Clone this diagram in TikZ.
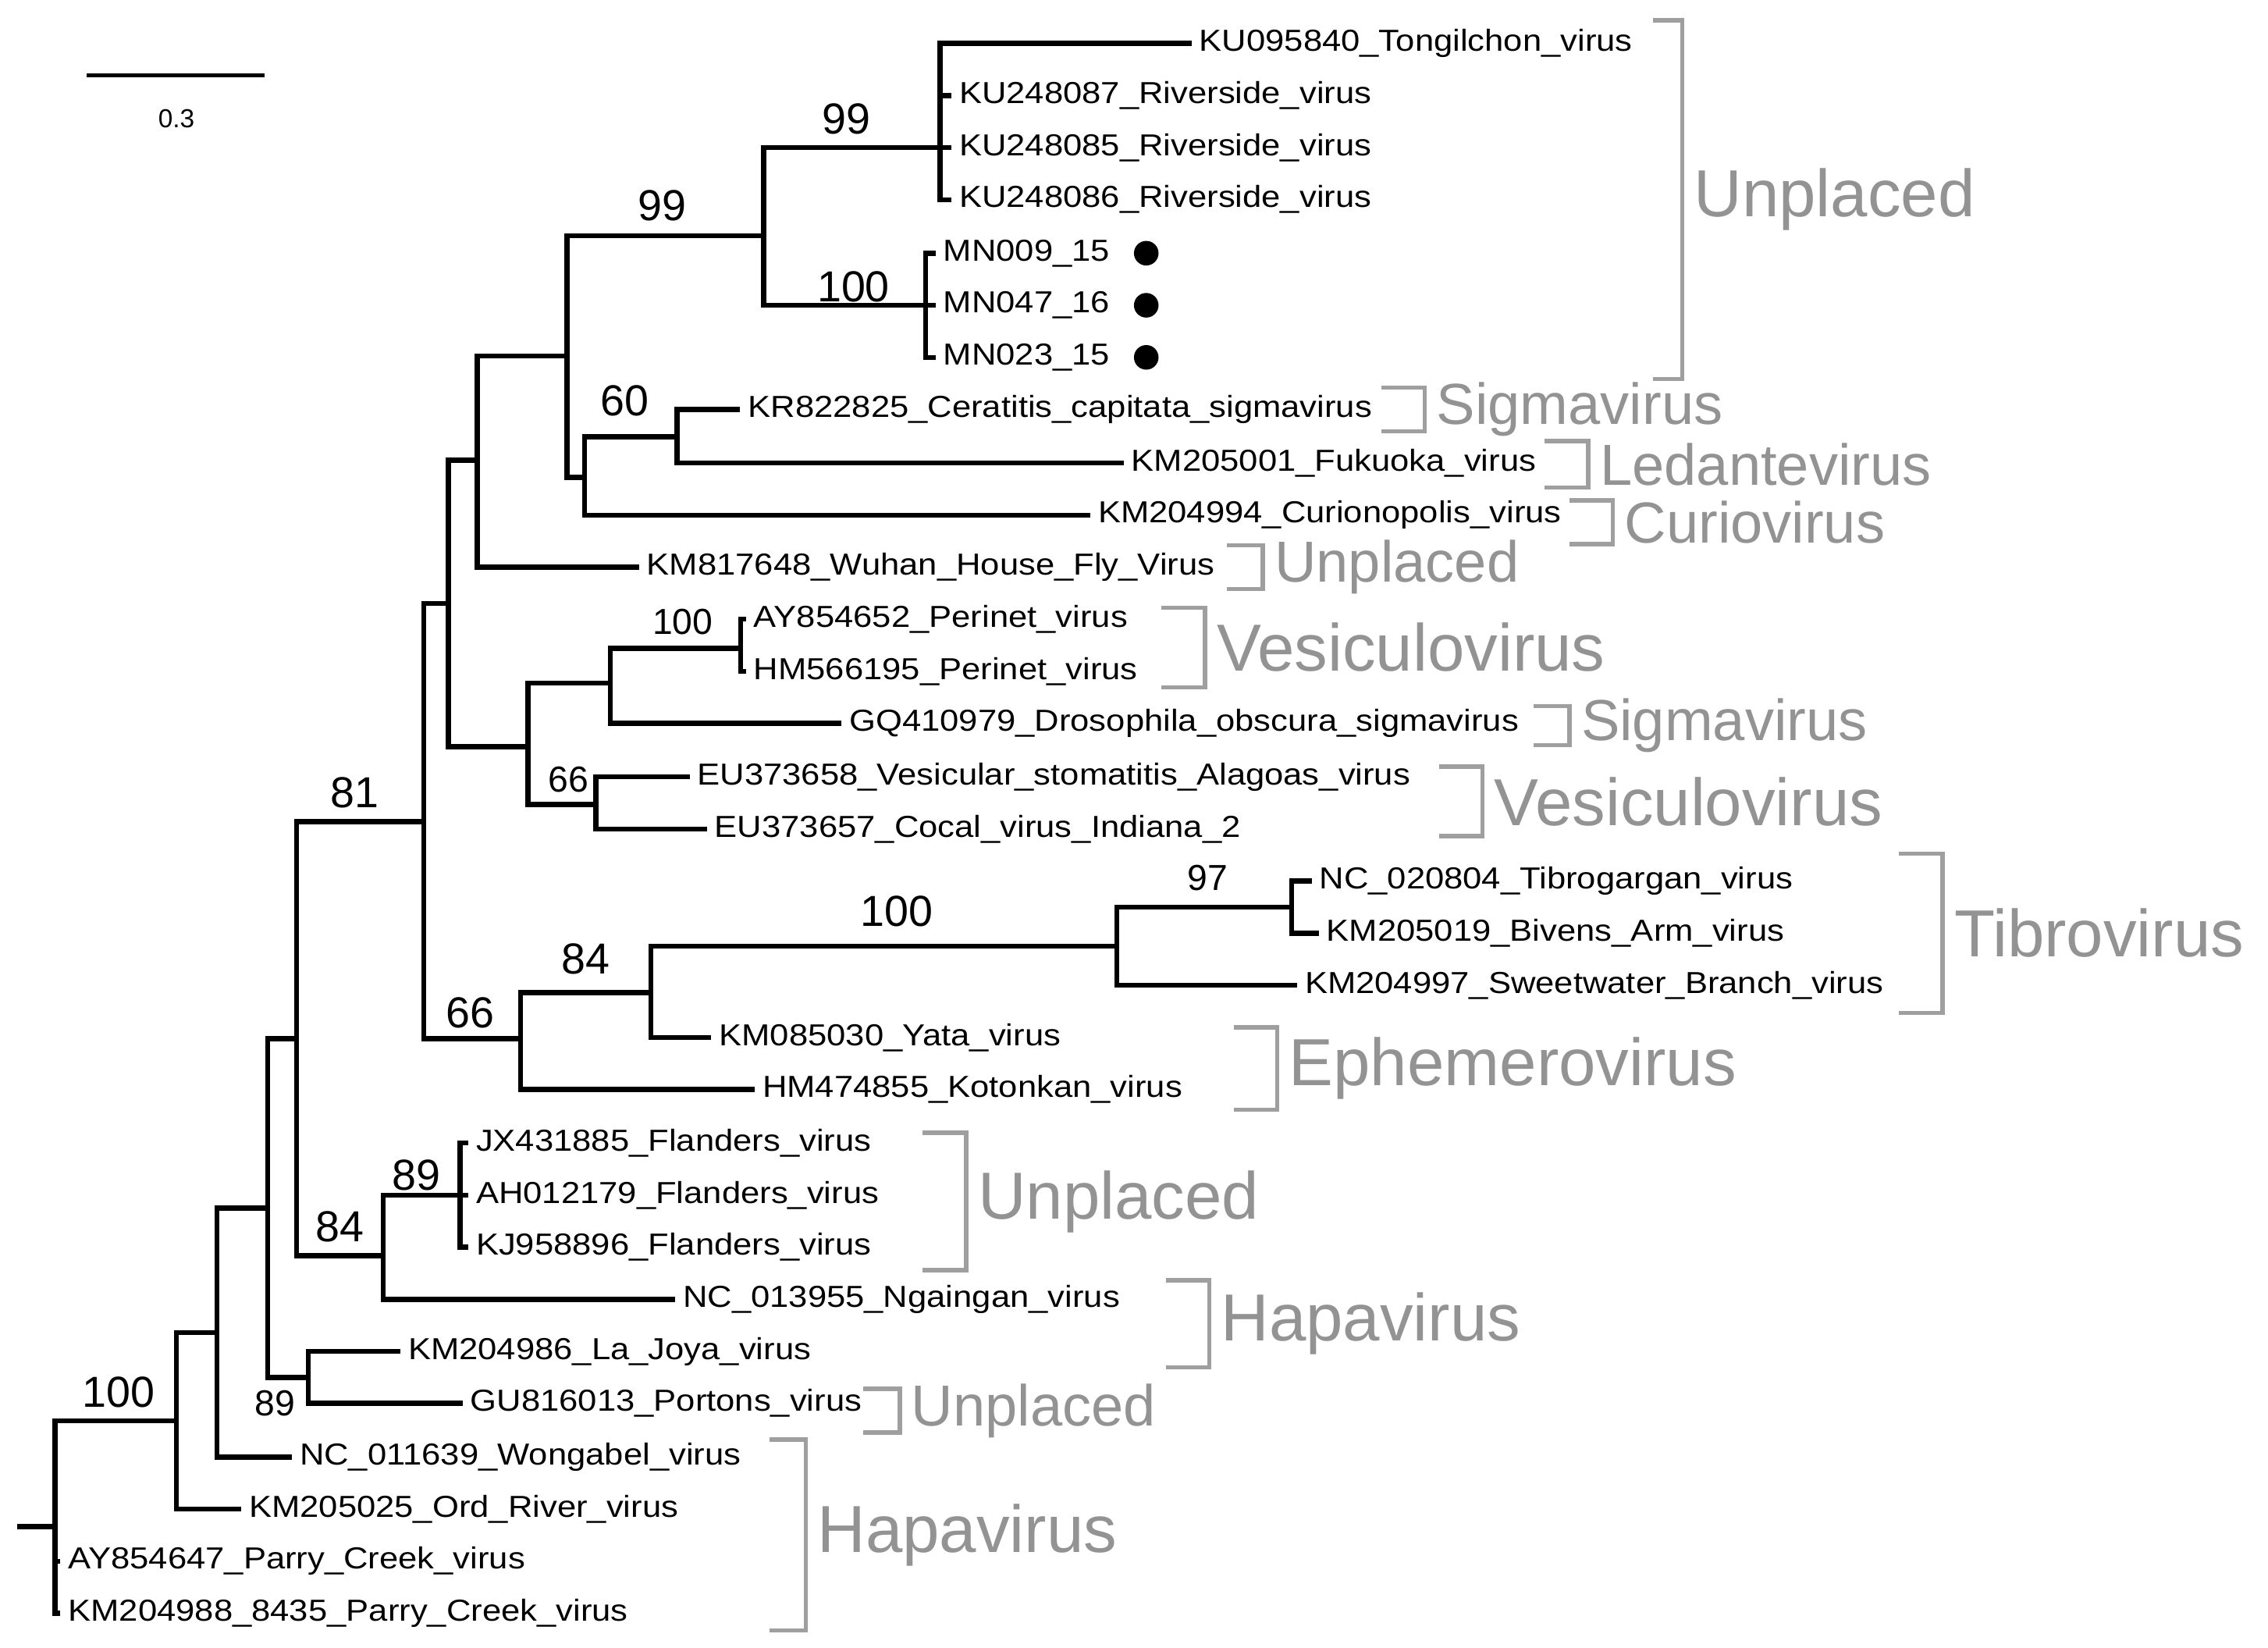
\documentclass[tikz,border=0pt]{standalone}
\usepackage{fontspec}
\setmainfont{Liberation Sans}
\newfontfamily\leaffont[FakeStretch=1.12]{Liberation Sans}
\begin{document}
\begin{tikzpicture}[x=1pt,y=-1pt,
 br/.style={line width=3.5pt},
 leaf/.style={anchor=west,inner sep=0pt,font=\leaffont\fontsize{21}{21}\selectfont},
 bs/.style={inner sep=0pt,font=\fontsize{30}{30}\selectfont},
 bss/.style={inner sep=0pt,font=\fontsize{25}{25}\selectfont},
 brk/.style={draw=gray!75,line width=3pt},
 clade/.style={anchor=west,inner sep=0pt,text=gray!85,font=\fontsize{42}{42}\selectfont}]
\useasboundingbox (0,0) rectangle (1568,1139);
% leaves
\foreach \n/\x/\y/\t in {1/822/30/KU095840\_Tongilchon\_virus,2/656/66/KU248087\_Riverside\_virus,3/656/102/KU248085\_Riverside\_virus,4/656/138/KU248086\_Riverside\_virus,5/645/175/MN009\_15,6/645/211/MN047\_16,7/645/247/MN023\_15,8/510/283/KR822825\_Ceratitis\_capitata\_sigmavirus,9/775/320/KM205001\_Fukuoka\_virus,10/752/356/KM204994\_Curionopolis\_virus,11/440/392/KM817648\_Wuhan\_House\_Fly\_Virus,12/514/428/AY854652\_Perinet\_virus,13/514/464/HM566195\_Perinet\_virus,14/580/500/GQ410979\_Drosophila\_obscura\_sigmavirus,15/475/537/EU373658\_Vesicular\_stomatitis\_Alagoas\_virus,16/487/573/EU373657\_Cocal\_virus\_Indiana\_2,17/905/609/NC\_020804\_Tibrogargan\_virus,18/910/645/KM205019\_Bivens\_Arm\_virus,19/895/681/KM204997\_Sweetwater\_Branch\_virus,20/490/717/KM085030\_Yata\_virus,21/520/753/HM474855\_Kotonkan\_virus,22/322/790/JX431885\_Flanders\_virus,23/322/826/AH012179\_Flanders\_virus,24/322/862/KJ958896\_Flanders\_virus,25/465/898/NC\_013955\_Ngaingan\_virus,26/275/934/KM204986\_La\_Joya\_virus,27/318/970/GU816013\_Portons\_virus,28/200/1007/NC\_011639\_Wongabel\_virus,29/165/1043/KM205025\_Ord\_River\_virus,30/40/1079/AY854647\_Parry\_Creek\_virus,31/40/1115/KM204988\_8435\_Parry\_Creek\_virus}
 {\coordinate (l\n) at (\x,\y); \node[leaf] (t\n) at (\x+7,\y) {\t};}
\foreach \n in {5,6,7} \fill ([xshift=25pt]t\n.east) circle (8.5pt);
% internal nodes
\coordinate (root) at (38,982);
\coordinate (A) at (122,982);
\coordinate (B) at (150,921);
\coordinate (C) at (185,835);
\coordinate (D) at (205,718);
\coordinate (E) at (213,952);
\coordinate (G) at (265,868);
\coordinate (H) at (318,826);
\coordinate (F) at (293,568);
\coordinate (R) at (310,417);
\coordinate (J) at (360,718);
\coordinate (S) at (330,318);
\coordinate (Q) at (365,516);
\coordinate (T) at (392,246);
\coordinate (U) at (528,163);
\coordinate (V) at (404,330);
\coordinate (AA) at (650,102);
\coordinate (BB) at (640,211);
\coordinate (W) at (468,302);
\coordinate (X) at (422,472);
\coordinate (Y) at (412,556);
\coordinate (Z) at (512,448);
\coordinate (K) at (450,686);
\coordinate (L) at (772,654);
\coordinate (M) at (893,627);
\coordinate (stub) at (12,1055);
\draw[br] (stub) -- (stub -| root);
\foreach \p/\c in {root/A,root/l30,root/l31,A/B,A/l29,B/C,B/l28,C/D,C/E,E/l26,E/l27,D/F,D/G,G/H,G/l25,H/l22,H/l23,H/l24,F/R,F/J,R/S,R/Q,S/T,S/l11,T/U,T/V,U/AA,U/BB,AA/l1,AA/l2,AA/l3,AA/l4,BB/l5,BB/l6,BB/l7,V/W,V/l10,W/l8,W/l9,Q/X,Q/Y,X/Z,X/l14,Z/l12,Z/l13,Y/l15,Y/l16,J/K,J/l21,K/L,K/l20,L/M,L/l19,M/l17,M/l18}
 \draw[br,line cap=rect] (\p) |- (\c);
% bootstrap
\node[bs] (b1) at (82,962) {100};
\node[bs] (b2) at (458,142) {99};
\node[bs] (b3) at (585,82) {99};
\node[bs] (b4) at (590,198) {100};
\node[bs] (b5) at (432,277) {60};
\node[bss] (b6) at (472,430) {100};
\node[bss] (b7) at (393,539) {66};
\node[bs] (b8) at (245,548) {81};
\node[bs] (b9) at (620,630) {100};
\node[bss] (b10) at (835,607) {97};
\node[bs] (b11) at (405,663) {84};
\node[bs] (b12) at (325,700) {66};
\node[bs] (b13) at (288,812) {89};
\node[bs] (b14) at (235,848) {84};
\node[bss] (b15) at (190,970) {89};
% scale bar
\coordinate (s1) at (60,52); \coordinate (s2) at (183,52);
\draw[line width=3pt] (s1) -- (s2);
\node[inner sep=0pt,font=\fontsize{18}{18}\selectfont] (sl) at (122,82) {0.3};
% brackets
\foreach \n/\x/\ya/\yb/\w/\t/\s in {1/1163/14/262/20/Unplaced/46,2/985/268/298/30/Sigmavirus/40,3/1098/305/337/30/Ledantevirus/40,4/1115/346/376/30/Curiovirus/40,5/873/377/407/25/Unplaced/40,6/833/420/475/30/Vesiculovirus/46,7/1085/488/515/25/Sigmavirus/40,8/1025/530/578/30/Vesiculovirus/46,9/1343/590/700/30/Tibrovirus/46,10/883/710/767/30/Ephemerovirus/46,11/668/783/878/30/Unplaced/46,12/836/885/945/30/Hapavirus/46,13/622/960/990/25/Unplaced/40,14/557/995/1127/25/Hapavirus/46}
 {\draw[brk] (\x-\w,\ya) -- (\x,\ya) -- (\x,\yb) -- (\x-\w,\yb);
  \node[clade,font=\fontsize{\s}{\s}\selectfont] (c\n) at (\x+8,{(\ya+\yb)/2}) {\t};}
\end{tikzpicture}
\end{document}
